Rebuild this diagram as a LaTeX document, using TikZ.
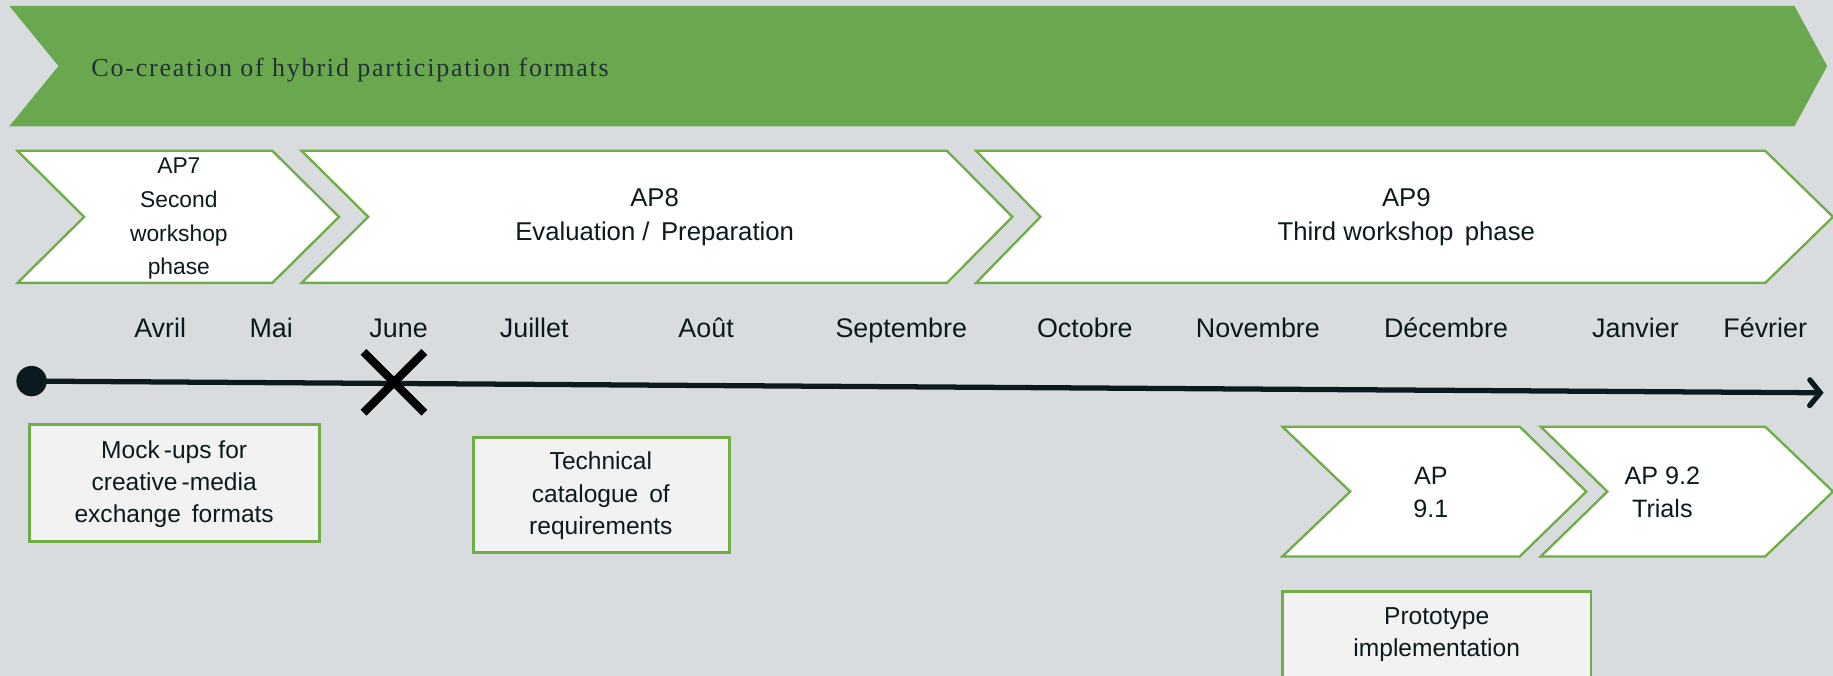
\documentclass[tikz,border=0pt]{standalone}
\usepackage{fontspec}
\setmainfont{Liberation Sans}
\newfontfamily\bannerfont[LetterSpace=7]{Liberation Serif}
\usetikzlibrary{arrows.meta}
\definecolor{bgc}{HTML}{D8DCDF}
\definecolor{bannergreen}{HTML}{6AA84F}
\definecolor{edgegreen}{HTML}{70AD47}
\definecolor{boxfill}{HTML}{F2F2F2}
\definecolor{inkc}{HTML}{0B1A1E}
\newcommand\chevpath[7]{% style, left, notch, right, tip, top, bottom
  \path[#1] (#2,#6) -- (#4,#6) -- (#5,{(#6+#7)/2}) -- (#4,#7) -- (#2,#7) -- (#3,{(#6+#7)/2}) -- cycle;}
\begin{document}
\begin{tikzpicture}[x=1pt,y=-1pt,
  chevstyle/.style={fill=white,draw=edgegreen,line width=2pt,line join=miter},
  bannerstyle/.style={fill=bannergreen},
  chevtext/.style={font=\fontsize{22}{29}\selectfont,align=center,text=inkc,inner sep=0pt},
  monthtext/.style={font=\fontsize{23}{26}\selectfont,text=inkc,inner sep=0pt,anchor=base},
  notebox/.style={fill=boxfill,draw=edgegreen,line width=2.5pt},
  notetext/.style={font=\fontsize{21}{27.5}\selectfont,align=center,text=inkc,inner sep=0pt}]
\useasboundingbox[fill=bgc] (0,0) rectangle (1568,578);
% banner
\chevpath{bannerstyle}{8}{50}{1535}{1563}{5}{108}
\node[anchor=west,inner sep=0pt,text=inkc!90,font=\bannerfont\fontsize{22.2}{24}\selectfont] (banner) at (78,60) {Co-creation of hybrid participation formats};
% phase chevrons
\chevpath{chevstyle}{15}{72}{233}{290}{129}{242}
\chevpath{chevstyle}{258}{315}{810}{866}{129}{242}
\chevpath{chevstyle}{835}{890}{1510}{1568}{129}{242}
\node[chevtext,font=\fontsize{19.5}{29}\selectfont] (ap7) at (153,187) {AP7\\Second\\workshop\\phase};
\node[chevtext] (ap8) at (560,186) {AP8\\Evaluation /\, Preparation};
\node[chevtext] (ap9) at (1203,186) {AP9\\Third workshop\, phase};
% months
\foreach \n/\x/\t in {avr/137/Avril, mai/232/Mai, jun/341/June, jul/457/Juillet, aou/604/Août, sep/771/Septembre, oct/928/Octobre, nov/1076/Novembre, dec/1237/Décembre, jan/1399/Janvier, fev/1510/Février}
  \node[monthtext] (m\n) at (\x,289) {\t};
% timeline
\coordinate (tstart) at (27,326);
\coordinate (tend) at (1560,336);
\draw[inkc,line width=4.5pt,-{Straight Barb[length=9pt,width=22pt,line cap=round,line width=4.5pt]}] (tstart) -- (tend);
\fill[inkc] (tstart) circle (13);
\coordinate (xmark) at (337,327);
\draw[black,line width=7pt] ([shift={(-26,-26)}]xmark) -- ([shift={(26,26)}]xmark)
  ([shift={(-26,26)}]xmark) -- ([shift={(26,-26)}]xmark);
% notes
\draw[notebox] (25,363) rectangle (273,463);
\node[notetext] (mock) at (149,414) {Mock\,-ups for\\creative\,-media\\exchange\, formats};
\draw[notebox] (405,374) rectangle (624,473);
\node[notetext] (tech) at (514,424) {Technical\\catalogue\, of\\requirements};
\draw[notebox] (1097,506) rectangle (1361,590);
\node[notetext] (proto) at (1229,543) {Prototype\\implementation};
% sub chevrons
\chevpath{chevstyle}{1097}{1155}{1300}{1357}{365}{476}
\chevpath{chevstyle}{1318}{1375}{1510}{1568}{365}{476}
\node[chevtext,font=\fontsize{21.5}{28}\selectfont] (ap91) at (1224,421) {AP\\9.1};
\node[chevtext,font=\fontsize{21.5}{28}\selectfont] (ap92) at (1422,421) {AP 9.2\\Trials};
\end{tikzpicture}
\end{document}
